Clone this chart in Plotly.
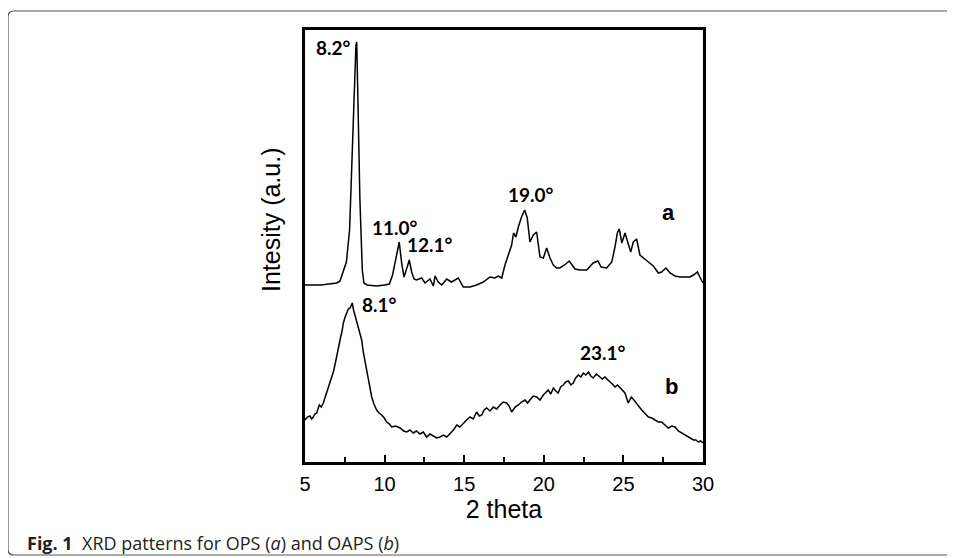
import plotly.graph_objects as go

# ---- data ----
two_theta_a = [5.0, 5.5, 6.0, 6.5, 7.0, 7.2, 7.4, 7.6, 7.8, 7.95, 8.1, 8.2, 8.25, 8.35, 8.45, 8.6, 8.7, 8.9,
               9.5, 10.0, 10.3, 10.5, 10.65, 10.8, 10.92, 11.07, 11.22, 11.4, 11.55, 11.7, 11.85, 12.0,
               12.33, 12.54, 12.85, 13.06, 13.17, 13.37, 13.59, 13.9, 14.2, 14.63, 14.94, 15.36, 15.78,
               16.2, 16.62, 16.93, 17.14, 17.36, 17.56, 17.77, 17.98, 18.1, 18.25, 18.4, 18.6, 18.8,
               18.96, 19.13, 19.34, 19.55, 19.76, 19.97, 20.18, 20.39, 20.6, 20.8, 21.0, 21.3, 21.6,
               21.96, 22.27, 22.7, 23.1, 23.4, 23.6, 23.95, 24.27, 24.47, 24.62, 24.74, 24.9, 25.1,
               25.3, 25.46, 25.62, 25.83, 26.04, 26.25, 26.57, 26.88, 27.2, 27.4, 27.67, 27.93, 28.24,
               28.56, 28.87, 29.18, 29.4, 29.65, 29.8, 30.0]
intensity_a = [177, 177, 177, 178, 179, 181, 190, 200, 232, 302, 382, 417, 420, 342, 262, 192, 179, 177,
               176, 177, 178, 187, 199, 212, 220, 199, 185, 194, 202, 190, 183, 182,
               184, 179, 183, 176, 186, 180, 177, 183, 180, 184, 175, 175, 177,
               180, 185, 184, 186, 184, 197, 207, 217, 229, 225, 235, 245, 252,
               244, 220, 227, 230, 205, 204, 214, 204, 197, 194, 194, 197, 201,
               193, 192, 192, 199, 201, 195, 194, 200, 215, 229, 233, 219, 229,
               217, 210, 220, 223, 207, 204, 200, 196, 189, 190, 194, 189, 186,
               185, 185, 185, 187, 190, 185, 179]

two_theta_b = [5.0, 5.15, 5.31, 5.42, 5.52, 5.62, 5.73, 5.9, 6.02, 6.15, 6.25, 6.36, 6.52, 6.68, 6.78,
               6.88, 7.0, 7.09, 7.24, 7.33, 7.41, 7.52, 7.62, 7.72, 7.83, 7.9, 7.97, 8.05,
               8.14, 8.25, 8.35, 8.45, 8.56, 8.66, 8.77, 8.88, 8.98, 9.08, 9.19, 9.33, 9.5, 9.65,
               9.82, 9.98, 10.13, 10.3, 10.45, 10.7, 10.97, 11.2, 11.39, 11.6, 11.8, 12.0, 12.22,
               12.43, 12.64, 12.85, 13.06, 13.27, 13.48, 13.7, 13.9, 14.05, 14.21, 14.37, 14.53, 14.73,
               14.94, 15.15, 15.36, 15.57, 15.78, 15.95, 16.1, 16.25, 16.41, 16.62, 16.83, 17.04,
               17.25, 17.45, 17.66, 17.82, 17.98, 18.2, 18.4, 18.6, 18.82, 18.98, 19.13, 19.34,
               19.55, 19.76, 19.97, 20.12, 20.28, 20.44, 20.6, 20.75, 20.9, 21.06, 21.22, 21.38,
               21.54, 21.7, 21.85, 22.0, 22.17, 22.33, 22.48, 22.64, 22.8, 22.95, 23.1, 23.3,
               23.53, 23.68, 23.84, 24.0, 24.16, 24.31, 24.47, 24.63, 24.79, 24.95, 25.1, 25.3,
               25.5, 25.66, 25.83, 26.0, 26.15, 26.36, 26.57, 26.78, 26.99, 27.2, 27.4, 27.6,
               27.82, 28.03, 28.24, 28.45, 28.66, 28.87, 29.08, 29.24, 29.4, 29.55, 29.71, 29.85, 30.0]
intensity_b = [42, 45, 46, 43, 45, 48, 49, 57, 55, 59, 64, 69, 76, 85, 90,
               97, 107, 115, 125, 131, 139, 145, 150, 153, 154, 157, 159, 152,
               147, 140, 135, 128, 122, 110, 100, 90, 80, 72, 65, 58, 52, 49,
               47, 44, 40, 38, 35, 36, 34, 31, 30, 32, 29, 31, 28,
               30, 25, 28, 26, 24, 25, 27, 25, 28, 30, 33, 37, 35,
               39, 42, 45, 43, 50, 46, 47, 52, 54, 51, 55, 53,
               57, 60, 59, 56, 50, 55, 57, 60, 62, 59, 62, 66,
               65, 62, 67, 70, 72, 68, 74, 71, 69, 75, 77, 80,
               81, 77, 79, 84, 87, 85, 89, 87, 90, 86, 84, 88,
               85, 83, 85, 82, 80, 78, 75, 77, 74, 71, 69, 59,
               65, 62, 59, 55, 52, 48, 45, 44, 42, 40, 40, 37,
               34, 36, 35, 31, 29, 27, 25, 24, 22, 22, 20, 21, 19]

x_ticks = [5, 10, 15, 20, 25, 30]
peak_labels = ["8.2°", "11.0°", "12.1°", "19.0°", "8.1°", "23.1°"]
curve_labels = ["a", "b"]

# ---- layout geometry (window pixels; page body adds 8px offset) ----
OFF = 8
W, H = 955 - OFF, 558 - OFF
L, R, T, B = 305 - OFF, 703 - OFF, 30 - OFF, 462 - OFF


def px(x):
    return (x - OFF - L) / (R - L)


def py(y):
    return (B - (y - OFF)) / (B - T)


fig = go.Figure()
fig.add_trace(go.Scatter(x=two_theta_a, y=intensity_a, mode="lines",
                         line=dict(color="black", width=1.5), showlegend=False))
fig.add_trace(go.Scatter(x=two_theta_b, y=intensity_b, mode="lines",
                         line=dict(color="black", width=1.5), showlegend=False))

ann = []
peak_pos = [(333, 48), (395, 227), (430, 244), (531, 194), (379, 304), (603, 352)]
for t, (xx, yy) in zip(peak_labels, peak_pos):
    ann.append(dict(text=f"<b>{t}</b>", x=px(xx), y=py(yy), xref="paper", yref="paper",
                    showarrow=False, xanchor="center", yanchor="middle",
                    font=dict(family="Lato", size=19, color="black")))
for t, (xx, yy) in zip(curve_labels, [(668, 212), (671, 386)]):
    ann.append(dict(text=f"<b>{t}</b>", x=px(xx), y=py(yy), xref="paper", yref="paper",
                    showarrow=False, xanchor="center", yanchor="middle",
                    font=dict(family="Arial", size=22, color="black")))
ann.append(dict(text="Intesity (a.u.)", x=px(271), y=py(220), xref="paper", yref="paper",
                showarrow=False, textangle=-90, xanchor="center", yanchor="middle",
                font=dict(family="Arial", size=25, color="black")))
ann.append(dict(text="<b>Fig. 1</b>&nbsp;&nbsp;XRD patterns for OPS (<i>a</i>) and OAPS (<i>b</i>)",
                x=px(25), y=py(543), xref="paper", yref="paper", showarrow=False,
                xanchor="left", yanchor="middle",
                font=dict(family="Open Sans", size=18, color="#231f20")))

# frame around figure
fx0, fy0, fy1, fx1 = px(8), py(11), py(555), px(975)
rx, ry = 6 / (R - L), 6 / (B - T)
frame = (f"M {fx1},{fy0} L {fx0+rx},{fy0} Q {fx0},{fy0} {fx0},{fy0-ry} "
         f"L {fx0},{fy1+ry} Q {fx0},{fy1} {fx0+rx},{fy1} L {fx1},{fy1}")

fig.update_layout(
    width=W, height=H,
    margin=dict(l=L, r=W - R, t=T, b=H - B, pad=0),
    paper_bgcolor="white", plot_bgcolor="white",
    annotations=ann,
    shapes=[dict(type="path", path=frame, xref="paper", yref="paper",
                 line=dict(color="#555555", width=1.2))],
    xaxis=dict(range=[5, 30], tickvals=x_ticks, ticktext=[str(v) for v in x_ticks],
               showgrid=False, zeroline=False, showline=True, linecolor="black", linewidth=2.5,
               mirror=True, ticks="inside", ticklen=7, tickwidth=2, tickcolor="black",
               ticklabelstandoff=2,
               minor=dict(tickvals=[7.5, 12.5, 17.5, 22.5, 27.5], ticks="inside", ticklen=5,
                          tickwidth=2, tickcolor="black"),
               tickfont=dict(family="Arial", size=20, color="black"),
               title=dict(text="2 theta", font=dict(family="Arial", size=25, color="black"),
                          standoff=0)),
    yaxis=dict(range=[0, 432], showticklabels=False, ticks="", showgrid=False, zeroline=False,
               showline=True, linecolor="black", linewidth=2.5, mirror=True),
)

fig.write_html("out.html")
